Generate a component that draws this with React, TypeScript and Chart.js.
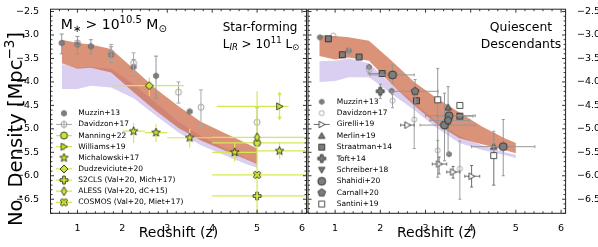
import React, { useEffect, useRef } from 'react';
import { Chart, registerables } from 'chart.js';

Chart.register(...registerables);

const FAMILY = "'DejaVu Sans', sans-serif";

type Row = (number | null)[];

// ---------------- axes ----------------
const zMin = 0.4;
const zMax = 6.1;
const nMin = -6.8;
const nMax = -2.45;
const xTickValues = [1, 2, 3, 4, 5, 6];
const yTickValues = [-6.5, -6.0, -5.5, -5.0, -4.5, -4.0, -3.5, -3.0, -2.5];

// ---------------- model bands ----------------
const bandZ = [0.65, 1.0, 1.3, 1.75, 2.25, 2.75, 3.25, 3.75, 4.25, 4.75, 5.0];
const sfOrangeHi = [-3.1, -3.17, -3.2, -3.3, -3.72, -4.15, -4.52, -4.85, -5.08, -5.3, -5.42];
const sfOrangeLo = [-3.6, -3.72, -3.7, -3.8, -4.22, -4.62, -4.98, -5.25, -5.45, -5.65, -5.75];
const sfPurpleHi = [-3.62, -3.7, -3.68, -3.72, -4.05, -4.45, -4.85, -5.15, -5.4, -5.62, -5.72];
const sfPurpleLo = [-4.15, -4.15, -4.08, -4.12, -4.35, -4.72, -5.08, -5.35, -5.55, -5.75, -5.83];
const qOrangeHi = [-3.0, -3.02, -3.05, -3.12, -3.55, -4.0, -4.35, -4.65, -4.95, -5.2, -5.3];
const qOrangeLo = [-3.45, -3.52, -3.48, -3.55, -4.05, -4.5, -4.9, -5.2, -5.33, -5.45, -5.52];
const qPurpleHi = [-3.56, -3.55, -3.5, -3.6, -4.05, -4.45, -4.85, -5.15, -5.35, -5.5, -5.55];
const qPurpleLo = [-4.0, -3.98, -3.9, -3.9, -4.25, -4.6, -4.98, -5.3, -5.45, -5.56, -5.62];

// ---------------- observations ----------------
// row: [z, logN, zLo, zHi, nLo, nHi]
const sfMuzzin: Row[] = [
  [0.65, -3.17, null, null, -3.4, -2.98],
  [1.0, -3.2, null, null, -3.4, -3.03],
  [1.3, -3.24, null, null, -3.4, -3.1],
  [1.75, -3.42, null, null, -3.58, -3.25],
  [2.25, -3.68, null, null, -3.86, -3.52],
  [2.75, -3.87, null, null, -4.35, -3.45],
  [3.5, -4.63],
];
const sfDavidzon: Row[] = [
  [1.0, -3.17],
  [1.75, -3.38, null, null, -3.55, -3.2],
  [2.25, -3.6, null, null, -3.85, -3.38],
  [3.25, -4.22, null, null, -4.45, -4.0],
  [3.75, -4.54, null, null, -4.95, -4.17],
  [5.0, -4.86, null, null, -5.2, -4.55],
];
const sfManning: Row[] = [[5.0, -5.3, 4.0, 6.1]];
const sfWilliams: Row[] = [[5.5, -4.52, 4.1, 5.7, -4.8, -4.22]];
const sfMichalowski: Row[] = [
  [2.25, -5.05, 2.0, 2.5, -5.3, -4.87],
  [2.75, -5.08, 2.5, 3.0, -5.28, -4.9],
  [3.5, -5.19, 3.0, 4.0, -5.4, -5.0],
  [4.5, -5.5, 4.0, 5.0, -5.7, -5.3],
  [5.5, -5.47, 5.0, 6.1, -5.65, -5.28],
];
const sfDudzeviciute: Row[] = [[2.6, -4.08, 1.75, 3.37, -4.3, -3.9]];
const sfS2CLS: Row[] = [[5.0, -6.43, 4.0, 6.1]];
const sfALESS: Row[] = [[5.0, -5.18, 4.0, 6.1, -6.8, -4.2]];
const sfCOSMOS: Row[] = [[5.0, -5.98, 4.0, 6.1]];

const qMuzzin: Row[] = [[0.66, -3.05], [1.3, -3.33], [1.75, -3.68], [2.25, -4.19], [3.52, -5.54]];
const qDavidzon: Row[] = [
  [0.96, -3.01],
  [1.31, -3.35, null, null, -3.43, -3.27],
  [1.75, -3.75, null, null, -3.83, -3.67],
  [2.27, -4.4, null, null, -4.55, -4.27],
  [2.75, -4.8, null, null, -5.42, -4.2],
  [3.27, -5.46, null, null, -5.7, -5.25],
  [3.76, -5.85, null, null, -6.5, -5.26],
];
const qGirelli: Row[] = [
  [2.6, -4.92, 2.45, 2.75],
  [3.3, -5.75, 3.15, 3.47, -5.96, -5.6],
  [3.61, -5.92, 3.47, 3.76, -6.05, -5.8],
  [4.02, -6.01, 3.87, 4.2, -6.24, -5.78],
];
const qMerlin: Row[] = [[3.5, -4.54, null, null, -5.55, -4.1], [4.51, -5.38, null, null, -6.2, -5.05]];
const qStraatman: Row[] = [
  [0.85, -3.08],
  [1.16, -3.42],
  [1.53, -3.47],
  [2.04, -3.82, 1.75, 2.3],
  [2.8, -4.4],
  [3.76, -4.73, 3.25, 4.05],
];
const qToft: Row[] = [[2.0, -4.2, null, null, -4.35, -4.05]];
const qSchreiber: Row[] = [[3.5, -4.86]];
const qShahidi: Row[] = [
  [2.27, -3.85, 1.77, 2.75, -4.03, -3.64],
  [3.52, -4.72, 3.0, 4.1],
  [3.42, -4.92, 2.88, 4.1, -5.68, -4.24],
  [4.72, -5.38, 4.02, 5.42, -6.0, -4.8],
];
const qCarnall: Row[] = [[2.77, -4.2, 2.25, 3.28, -4.45, -3.95], [3.5, -4.82, 3.1, 3.98]];
const qSantini: Row[] = [[3.27, -4.38, null, null, -6.03, -3.71], [3.76, -4.5], [4.51, -5.57, null, null, -6.2, -5.1]];

// ---------------- styles ----------------
const GRAY_FILL = 'rgb(125,125,125)';
const GRAY_EDGE = 'rgb(100,100,100)';
const DARK = 'rgb(35,35,35)';
const YG_FILL = 'rgb(205,225,55)';
const YG_ERR = 'rgb(214,232,80)';
const GRAY_ERR = 'rgb(150,150,150)';
const NONE = 'rgba(255,255,255,0)';

interface Series {
  label: string; rows: Row[]; shape: string; size: number; fill: string; edge: string; lw: number;
  err: string; errW: number; cap: number; leg: string; arrows?: boolean;
}

const ygStyle = { fill: YG_FILL, edge: '#000', lw: 0.7, err: YG_ERR, errW: 1.2, cap: 0 };
const grStyle = { fill: GRAY_FILL, edge: DARK, lw: 0.8, err: GRAY_ERR, errW: 1, cap: 1.5, leg: '' };

const sfSeries: Series[] = [
  { label: 'Muzzin+13', rows: sfMuzzin, shape: 'h', size: 6, fill: GRAY_FILL, edge: GRAY_EDGE, lw: 0.6, err: GRAY_ERR, errW: 1, cap: 2, leg: '' },
  { label: 'Davidzon+17', rows: sfDavidzon, shape: 'o', size: 6, fill: NONE, edge: 'rgb(150,150,150)', lw: 0.9, err: 'rgb(170,170,170)', errW: 1, cap: 2, leg: 'xy' },
  { label: 'Manning+22', rows: sfManning, shape: 'o', size: 7, ...ygStyle, leg: 'xy' },
  { label: 'Williams+19', rows: sfWilliams, shape: '>', size: 7, ...ygStyle, leg: 'xy', arrows: true },
  { label: 'Michalowski+17', rows: sfMichalowski, shape: '*', size: 9, ...ygStyle, leg: 'y' },
  { label: 'Dudzeviciute+20', rows: sfDudzeviciute, shape: 'D', size: 8, ...ygStyle, leg: 'xy' },
  { label: 'S2CLS (Val+20, Mich+17)', rows: sfS2CLS, shape: 'P', size: 8, ...ygStyle, leg: 'xy' },
  { label: 'ALESS (Val+20, dC+15)', rows: sfALESS, shape: 'd', size: 9, ...ygStyle, leg: 'xy' },
  { label: 'COSMOS (Val+20, Miet+17)', rows: sfCOSMOS, shape: 'X', size: 8, ...ygStyle, leg: 'xy' },
];

const qSeries: Series[] = [
  { label: 'Muzzin+13', rows: qMuzzin, shape: 'h', size: 5.5, fill: GRAY_FILL, edge: GRAY_EDGE, lw: 0.6, err: GRAY_ERR, errW: 1, cap: 0, leg: '' },
  { label: 'Davidzon+17', rows: qDavidzon, shape: 'o', size: 5, fill: NONE, edge: 'rgb(150,150,150)', lw: 0.8, err: 'rgb(160,160,160)', errW: 1, cap: 1.5, leg: '' },
  { label: 'Girelli+19', rows: qGirelli, shape: '>', size: 6.5, fill: '#fff', edge: DARK, lw: 0.8, err: 'rgb(110,110,110)', errW: 1, cap: 1.5, leg: 'x' },
  { label: 'Merlin+19', rows: qMerlin, shape: '^', size: 6.5, ...grStyle },
  { label: 'Straatman+14', rows: qStraatman, shape: 's', size: 7, ...grStyle },
  { label: 'Toft+14', rows: qToft, shape: 'P', size: 8, ...grStyle },
  { label: 'Schreiber+18', rows: qSchreiber, shape: 'v', size: 6.5, ...grStyle },
  { label: 'Shahidi+20', rows: qShahidi, shape: 'o', size: 8, ...grStyle },
  { label: 'Carnall+20', rows: qCarnall, shape: 'p', size: 8, ...grStyle },
  { label: 'Santini+19', rows: qSantini, shape: 's', size: 7, ...grStyle, fill: '#fff' },
];

// ---------------- marker images ----------------
function shapePath(ctx: CanvasRenderingContext2D, shape: string, r: number) {
  ctx.beginPath();
  const poly = (pts: number[][]) => {
    pts.forEach(([a, b], i) => (i ? ctx.lineTo(a, b) : ctx.moveTo(a, b)));
    ctx.closePath();
  };
  const regular = (n: number, rr: number, rot: number) => {
    const pts: number[][] = [];
    for (let k = 0; k < n; k++) {
      const t = rot + (k * 2 * Math.PI) / n;
      pts.push([rr * Math.cos(t), rr * Math.sin(t)]);
    }
    poly(pts);
  };
  const w = r / 3;
  const plus = [[-w, -r], [w, -r], [w, -w], [r, -w], [r, w], [w, w], [w, r], [-w, r], [-w, w], [-r, w], [-r, -w], [-w, -w]];
  switch (shape) {
    case 'o': ctx.arc(0, 0, r, 0, Math.PI * 2); break;
    case 's': { const h = r * 0.85; ctx.rect(-h, -h, 2 * h, 2 * h); break; }
    case '^': poly([[0, -r], [r, r * 0.8], [-r, r * 0.8]]); break;
    case 'v': poly([[0, r], [r, -r * 0.8], [-r, -r * 0.8]]); break;
    case '>': poly([[r, 0], [-r * 0.8, -r], [-r * 0.8, r]]); break;
    case 'D': poly([[0, -r], [r, 0], [0, r], [-r, 0]]); break;
    case 'd': poly([[0, -r], [r * 0.6, 0], [0, r], [-r * 0.6, 0]]); break;
    case 'p': regular(5, r, -Math.PI / 2); break;
    case 'h': regular(6, r, -Math.PI / 2); break;
    case '*': {
      const pts: number[][] = [];
      for (let k = 0; k < 10; k++) {
        const rr = k % 2 ? r * 0.42 : r;
        const t = -Math.PI / 2 + (k * Math.PI) / 5;
        pts.push([rr * Math.cos(t), rr * Math.sin(t)]);
      }
      poly(pts);
      break;
    }
    case 'P': poly(plus); break;
    case 'X': {
      const c = Math.SQRT1_2;
      poly(plus.map(([a, b]) => [(a - b) * c, (a + b) * c]));
      break;
    }
    default: ctx.arc(0, 0, r, 0, Math.PI * 2);
  }
}

function makeMarker(s: Series): HTMLCanvasElement {
  const pad = Math.ceil(s.lw) + 1;
  const dim = Math.ceil(s.size + 2 * pad);
  const c = document.createElement('canvas');
  c.width = dim;
  c.height = dim;
  const ctx = c.getContext('2d')!;
  ctx.translate(dim / 2, dim / 2);
  shapePath(ctx, s.shape, s.size / 2);
  ctx.fillStyle = s.fill;
  ctx.fill();
  if (s.lw > 0) {
    ctx.lineWidth = s.lw;
    ctx.strokeStyle = s.edge;
    ctx.lineJoin = 'miter';
    ctx.stroke();
  }
  return c;
}

// ---------------- plugins ----------------
const errorBarPlugin = {
  id: 'errorBars',
  beforeDatasetDraw(chart: any, args: any) {
    const ds = chart.data.datasets[args.index];
    if (!ds.errColor) return;
    const { ctx, chartArea: a } = chart;
    const xs = chart.scales.x;
    const ys = chart.scales.y;
    ctx.save();
    ctx.beginPath();
    ctx.rect(a.left, a.top, a.right - a.left, a.bottom - a.top);
    ctx.clip();
    ctx.strokeStyle = ds.errColor;
    ctx.fillStyle = ds.errColor;
    ctx.lineWidth = ds.errWidth;
    const cap = ds.errCap;
    for (const p of ds.data) {
      const px = xs.getPixelForValue(p.x);
      const py = ys.getPixelForValue(p.y);
      ctx.beginPath();
      if (p.xLo != null && p.xHi != null) {
        const x1 = xs.getPixelForValue(p.xLo);
        const x2 = xs.getPixelForValue(p.xHi);
        ctx.moveTo(x1, py); ctx.lineTo(x2, py);
        if (cap) {
          ctx.moveTo(x1, py - cap); ctx.lineTo(x1, py + cap);
          ctx.moveTo(x2, py - cap); ctx.lineTo(x2, py + cap);
        }
      }
      let y1 = 0, y2 = 0;
      if (p.yLo != null && p.yHi != null) {
        y1 = ys.getPixelForValue(p.yLo);
        y2 = ys.getPixelForValue(p.yHi);
        ctx.moveTo(px, y1); ctx.lineTo(px, y2);
        if (cap) {
          ctx.moveTo(px - cap, y1); ctx.lineTo(px + cap, y1);
          ctx.moveTo(px - cap, y2); ctx.lineTo(px + cap, y2);
        }
      }
      ctx.stroke();
      if (ds.errArrows && p.yLo != null) {
        ctx.beginPath();
        ctx.moveTo(px, y1 + 1); ctx.lineTo(px - 2.2, y1 - 3); ctx.lineTo(px + 2.2, y1 - 3); ctx.closePath();
        ctx.moveTo(px, y2 - 1); ctx.lineTo(px - 2.2, y2 + 3); ctx.lineTo(px + 2.2, y2 + 3); ctx.closePath();
        ctx.fill();
      }
    }
    ctx.restore();
  },
};

const framePlugin = {
  id: 'frameTicks',
  afterDatasetsDraw(chart: any) {
    const { ctx, chartArea: a } = chart;
    const xs = chart.scales.x;
    const ys = chart.scales.y;
    ctx.save();
    ctx.strokeStyle = '#000';
    ctx.lineWidth = 0.8;
    ctx.beginPath();
    const isMajX = (v: number) => Math.abs(v - Math.round(v)) < 1e-6;
    for (let k = Math.ceil(zMin / 0.2 - 1e-6); k * 0.2 <= zMax + 1e-6; k++) {
      const v = k * 0.2;
      const len = isMajX(v) ? 3.5 : 2;
      const px = xs.getPixelForValue(v);
      ctx.moveTo(px, a.bottom); ctx.lineTo(px, a.bottom - len);
      ctx.moveTo(px, a.top); ctx.lineTo(px, a.top + len);
    }
    for (let k = Math.ceil(nMin / 0.1 - 1e-6); k * 0.1 <= nMax + 1e-6; k++) {
      const v = k * 0.1;
      const len = Math.abs(v * 2 - Math.round(v * 2)) < 1e-6 ? 3.5 : 2;
      const py = ys.getPixelForValue(v);
      ctx.moveTo(a.left, py); ctx.lineTo(a.left + len, py);
      ctx.moveTo(a.right, py); ctx.lineTo(a.right - len, py);
    }
    ctx.stroke();
    ctx.lineWidth = 1;
    ctx.strokeStyle = '#222';
    ctx.strokeRect(a.left, a.top, a.right - a.left, a.bottom - a.top);
    ctx.restore();
  },
};

type Seg = { t: string; s: number; dy?: number; it?: boolean };
function drawRich(ctx: CanvasRenderingContext2D, segs: Seg[], x: number, y: number, align: string, rot = 0) {
  ctx.save();
  ctx.translate(x, y);
  if (rot) ctx.rotate(rot);
  ctx.textBaseline = 'alphabetic';
  ctx.textAlign = 'left';
  ctx.fillStyle = '#000';
  const f = (g: Seg) => `${g.it ? 'italic ' : ''}${g.s}px ${FAMILY}`;
  let w = 0;
  for (const g of segs) { ctx.font = f(g); w += ctx.measureText(g.t).width; }
  let cx = align === 'center' ? -w / 2 : 0;
  for (const g of segs) {
    ctx.font = f(g);
    ctx.fillText(g.t, cx, g.dy || 0);
    cx += ctx.measureText(g.t).width;
  }
  ctx.restore();
}

const notesPlugin = {
  id: 'notes',
  afterDatasetsDraw(chart: any, _args: any, opts: any) {
    if (!opts || !opts.lines) return;
    const a = chart.chartArea;
    for (const line of opts.lines) {
      if (line.abs) drawRich(chart.ctx, line.segs, line.dx, line.dy, line.align, line.rot || 0);
      else drawRich(chart.ctx, line.segs, a.left + line.dx, a.top + line.dy, line.align);
    }
  },
};

const legendPlugin = {
  id: 'seriesLegend',
  afterDatasetsDraw(chart: any, _args: any, opts: any) {
    if (!opts || !opts.rows) return;
    const ctx = chart.ctx;
    ctx.save();
    opts.rows.forEach((idx: number, i: number) => {
      const ds = chart.data.datasets[idx];
      const y = opts.y0 + i * opts.dy;
      const mx = opts.mx;
      ctx.strokeStyle = ds.errColor;
      ctx.lineWidth = ds.errWidth;
      ctx.beginPath();
      if (ds.legendLines.includes('x')) { ctx.moveTo(mx - 8, y); ctx.lineTo(mx + 8, y); }
      if (ds.legendLines.includes('y')) { ctx.moveTo(mx, y - 4); ctx.lineTo(mx, y + 4); }
      ctx.stroke();
      const img = ds.marker;
      ctx.drawImage(img, mx - img.width / 2, y - img.height / 2);
      ctx.fillStyle = '#000';
      ctx.font = `${opts.size}px ${FAMILY}`;
      ctx.textBaseline = 'middle';
      ctx.textAlign = 'left';
      ctx.fillText(ds.label, opts.tx, y);
    });
    ctx.restore();
  },
};

// ---------------- config ----------------
function buildConfig(panel: 'sf' | 'q'): any {
  const isSF = panel === 'sf';
  const datasets: any[] = [];
  const band = (hi: number[], lo: number[], color: string, order: number) => {
    datasets.push({
      type: 'line', data: bandZ.map((z, i) => ({ x: z, y: hi[i] })), borderWidth: 0, borderColor: NONE,
      pointRadius: 0, fill: false, order, tension: 0,
    });
    datasets.push({
      type: 'line', data: bandZ.map((z, i) => ({ x: z, y: lo[i] })), borderWidth: 0, borderColor: NONE,
      pointRadius: 0, fill: '-1', backgroundColor: color, order, tension: 0,
    });
  };
  const purple = 'rgba(196,176,232,0.62)';
  const orange = 'rgba(205,110,75,0.75)';
  if (isSF) {
    band(sfPurpleHi, sfPurpleLo, purple, 30);
    band(sfOrangeHi, sfOrangeLo, orange, 20);
  } else {
    band(qPurpleHi, qPurpleLo, purple, 30);
    band(qOrangeHi, qOrangeLo, orange, 20);
  }
  const series = isSF ? sfSeries : qSeries;
  const legendRows: number[] = [];
  series.forEach((s, i) => {
    const marker = makeMarker(s);
    legendRows.push(datasets.length);
    datasets.push({
      type: 'scatter',
      label: s.label,
      data: s.rows.map((r) => ({
        x: r[0], y: r[1],
        xLo: r[2] ?? null, xHi: r[3] ?? null, yLo: r[4] ?? null, yHi: r[5] ?? null,
      })),
      pointStyle: marker,
      marker,
      pointRadius: s.size / 2,
      pointHoverRadius: s.size / 2,
      order: -i,
      errColor: s.err,
      errWidth: s.errW,
      errCap: s.cap,
      errArrows: !!s.arrows,
      legendLines: s.leg,
    });
  });

  const notes = isSF
    ? [
        { dx: 10.2, dy: 20, align: 'left', segs: [
          { t: 'M', s: 14 }, { t: '∗', s: 10, dy: 3 }, { t: ' > 10', s: 14 }, { t: '10.5', s: 10, dy: -6 },
          { t: ' M', s: 14 }, { t: '⊙', s: 10, dy: 3 }] },
        { dx: 172.2, dy: 21.6, align: 'left', segs: [{ t: 'Star-forming', s: 12 }] },
        { dx: 172.2, dy: 38.3, align: 'left', segs: [
          { t: 'L', s: 12 }, { t: 'IR', s: 8.5, dy: 2.5, it: true }, { t: ' > 10', s: 12 }, { t: '11', s: 8.5, dy: -5 },
          { t: ' L', s: 12 }, { t: '⊙', s: 8.5, dy: 2.5 }] },
        { abs: true, dx: 22, dy: 129, rot: -Math.PI / 2, align: 'center', segs: [
          { t: 'No. Density [Mpc', s: 19.5 }, { t: '−3', s: 13.5, dy: -8 }, { t: ']', s: 19.5 }] },
      ]
    : [
        { dx: 213, dy: 21.6, align: 'center', segs: [{ t: 'Quiescent', s: 12.4 }] },
        { dx: 213, dy: 38.3, align: 'center', segs: [{ t: 'Descendants', s: 12.4 }] },
      ];

  return {
    type: 'scatter',
    data: { datasets },
    plugins: [errorBarPlugin, framePlugin, notesPlugin, legendPlugin],
    options: {
      responsive: false,
      animation: false,
      devicePixelRatio: 1,
      events: [],
      layout: { padding: isSF ? { left: 0, top: 6.7, right: 4, bottom: 0 } : { left: 8, top: 6.7, right: 0, bottom: 0 } },
      plugins: {
        legend: { display: false },
        tooltip: { enabled: false },
        notes: { lines: notes },
        seriesLegend: isSF
          ? { rows: legendRows, mx: 64, tx: 78.3, y0: 113.3, dy: 11.13, size: 7.5 }
          : { rows: legendRows, mx: 21.7, tx: 36.7, y0: 101.7, dy: 11.37, size: 7.5 },
      },
      scales: {
        x: {
          type: 'linear', position: 'bottom', min: zMin, max: zMax,
          grid: { display: false }, border: { display: false },
          afterBuildTicks: (s: any) => { s.ticks = xTickValues.map((v) => ({ value: v })); },
          afterFit: (s: any) => { s.height = 33.7; },
          ticks: {
            color: '#000', font: { family: FAMILY, size: 9.5 }, padding: 1.3, maxRotation: 0, autoSkip: false,
            callback: (v: any) => String(v),
          },
          title: { display: true, text: 'Redshift (z)', color: '#000', font: { family: FAMILY, size: 14 }, padding: { top: 0, bottom: 5.3 } },
        },
        y: {
          type: 'linear', position: isSF ? 'left' : 'right', min: nMin, max: nMax,
          grid: { display: false }, border: { display: false },
          afterBuildTicks: (s: any) => { s.ticks = yTickValues.map((v) => ({ value: v })); },
          afterFit: (s: any) => { s.width = isSF ? 50.5 : 32.4; },
          ticks: {
            color: '#000', font: { family: FAMILY, size: 9.5 }, padding: 3.5, autoSkip: false,
            callback: (v: any) => (v < 0 ? '−' : '') + Math.abs(v).toFixed(1),
          },
          title: { display: false },
        },
      },
    },
  };
}

export default function App() {
  const leftRef = useRef<HTMLCanvasElement>(null);
  const rightRef = useRef<HTMLCanvasElement>(null);
  useEffect(() => {
    const c1 = new Chart(leftRef.current!, buildConfig('sf'));
    const c2 = new Chart(rightRef.current!, buildConfig('q'));
    return () => {
      c1.destroy();
      c2.destroy();
    };
  }, []);
  return (
    <div style={{ position: 'absolute', left: 0, top: 0, width: 598, height: 247, background: '#fff' }}>
      <canvas ref={leftRef} width={312} height={247} style={{ position: 'absolute', left: 0, top: 0 }} />
      <canvas ref={rightRef} width={298} height={247} style={{ position: 'absolute', left: 300, top: 0 }} />
    </div>
  );
}
